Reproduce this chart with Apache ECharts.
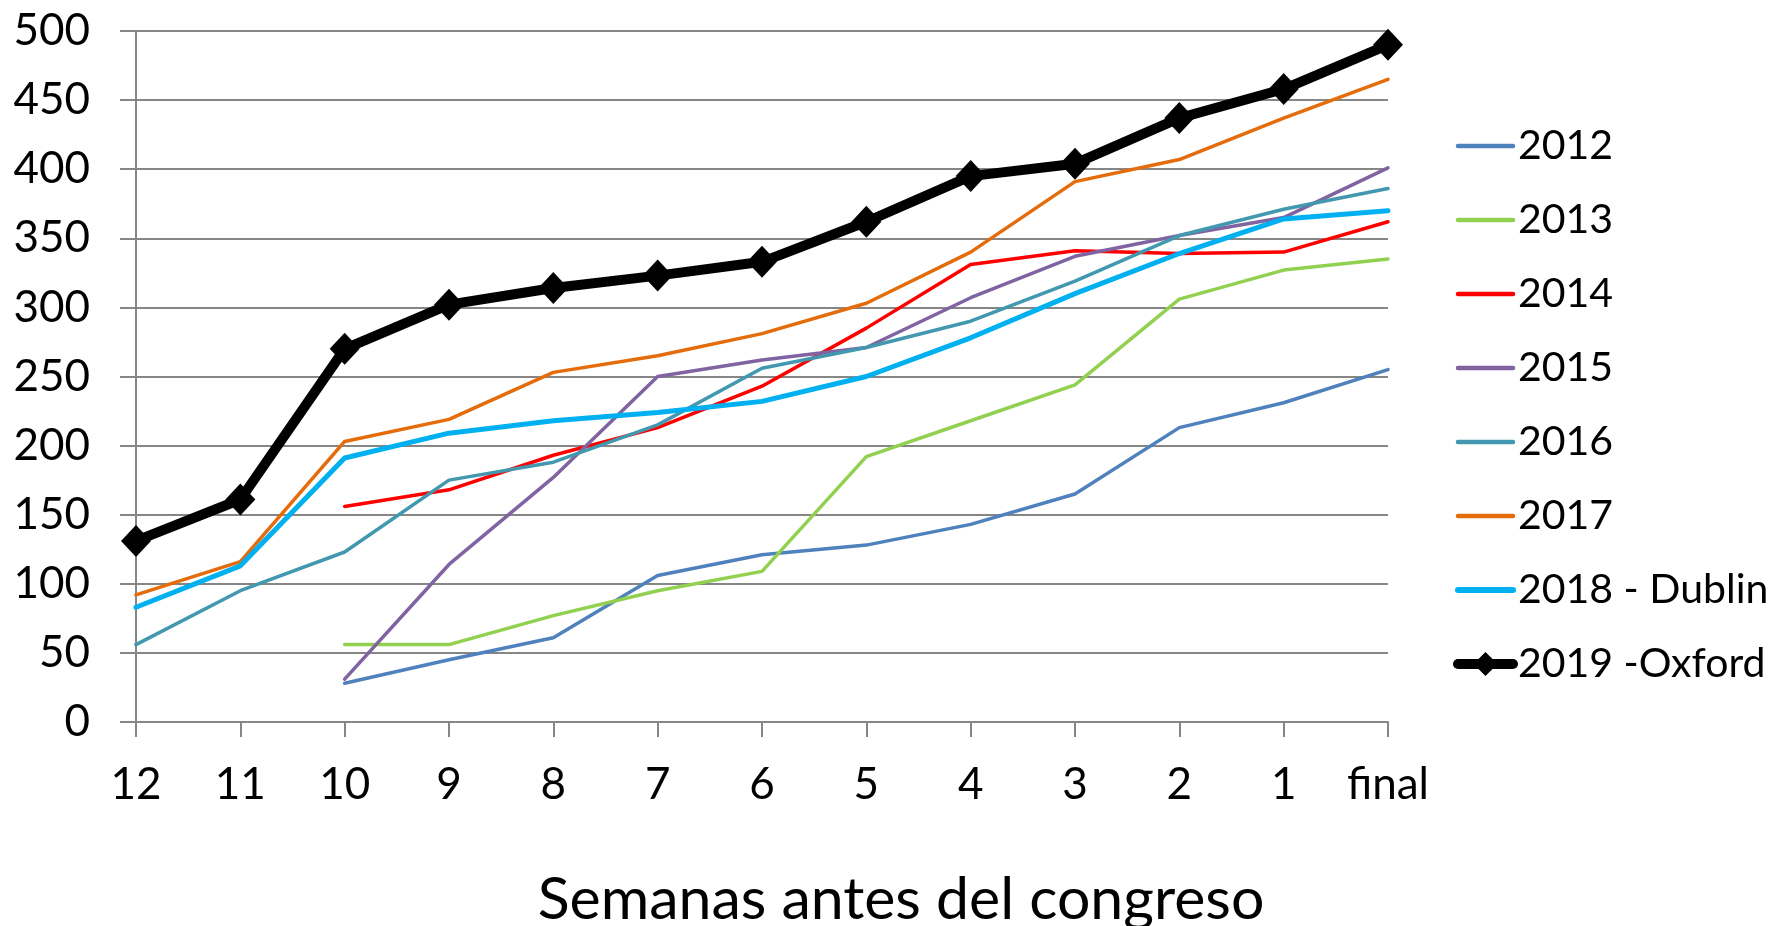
<!DOCTYPE html>
<html>
<head>
<meta charset="utf-8">
<script src="https://cdn.jsdelivr.net/npm/echarts@6/dist/echarts.min.js"></script>
<style>
  html, body { margin: 0; padding: 0; background: #fff; }
  #chart { width: 1778px; height: 926px; }
</style>
</head>
<body>
<div id="chart"></div>
<script>
// weeks before the congress
var weeks = ['12', '11', '10', '9', '8', '7', '6', '5', '4', '3', '2', '1', 'final']
var yTicks = [0, 50, 100, 150, 200, 250, 300, 350, 400, 450, 500]

var v2012 = [null, null, 28, 45, 61, 106, 121, 128, 143, 165, 213, 231, 255]
var v2013 = [null, null, 56, 56, 77, 95, 109, 192, 218, 244, 306, 327, 335]
var v2014 = [null, null, 156, 168, 193, 213, 243, 285, 331, 341, 339, 340, 362]
var v2015 = [null, null, 31, 114, 177, 250, 262, 271, 307, 337, 352, 365, 401]
var v2016 = [56, 95, 123, 175, 188, 215, 256, 271, 290, 319, 352, 371, 386]
var v2017 = [92, 116, 203, 219, 253, 265, 281, 303, 340, 391, 407, 437, 465]
var v2018 = [83, 113, 191, 209, 218, 224, 232, 250, 278, 310, 339, 364, 370]
var v2019 = [131, 161, 270, 302, 314, 323, 333, 362, 395, 404, 437, 458, 490]

var names = ['2012', '2013', '2014', '2015', '2016', '2017', '2018 - Dublin', '2019 -Oxford']
var colors = ['#4F81BD', '#92D050', '#FF0000', '#8064A2', '#4198AF', '#E46C0A', '#00B0F0', '#000000']
var values = [v2012, v2013, v2014, v2015, v2016, v2017, v2018, v2019]
var widths = [3.5, 3.5, 3.5, 3.5, 3.5, 3.5, 5, 10]

var fontFam = 'Lato, "Open Sans", sans-serif'
var gridCol = '#868686'

var chart = echarts.init(document.getElementById('chart'))

var series = []
var legendData = []
for (var i = 0; i < names.length; i++) {
  var last = i === names.length - 1
  series.push({
    name: names[i],
    type: 'line',
    data: values[i],
    connectNulls: false,
    symbol: last ? 'diamond' : 'none',
    symbolSize: last ? [30, 32] : 0,
    showSymbol: last,
    itemStyle: {color: colors[i]},
    lineStyle: {color: colors[i], width: widths[i], cap: 'round', join: 'round'},
    animation: false,
    z: 2 + i
  })
  // thin lines: hide the legend dot, keep only the line
  if (last) {
    legendData.push({name: names[i], lineStyle: {width: 10, cap: 'round'}})
  } else {
    legendData.push({name: names[i], itemStyle: {opacity: 0}, lineStyle: {width: widths[i] + 1, cap: 'round'}})
  }
}

var opt = {
  backgroundColor: '#ffffff',
  animation: false,
  grid: {
    left: 136,
    right: 390,
    top: 31,
    bottom: 204,
    containLabel: false
  },
  xAxis: {
    type: 'category',
    data: weeks,
    boundaryGap: false,
    axisLine: {show: true, lineStyle: {color: gridCol, width: 2}},
    axisTick: {show: true, length: 15, lineStyle: {color: gridCol, width: 2}},
    axisLabel: {
      color: '#000',
      fontFamily: fontFam,
      fontSize: 44,
      margin: 41,
      interval: 0
    },
    splitLine: {show: false}
  },
  yAxis: {
    type: 'value',
    min: yTicks[0],
    max: yTicks[yTicks.length - 1],
    interval: 50,
    axisLine: {show: true, lineStyle: {color: gridCol, width: 2}},
    axisTick: {show: true, length: 16, lineStyle: {color: gridCol, width: 2}},
    axisLabel: {
      color: '#000',
      fontFamily: fontFam,
      fontSize: 44,
      margin: 46
    },
    splitLine: {show: true, lineStyle: {color: gridCol, width: 2}}
  },
  legend: {
    orient: 'vertical',
    left: 1448,
    top: 119,
    itemWidth: 55,
    itemHeight: 30,
    itemGap: 30,
    textStyle: {
      color: '#000',
      fontFamily: fontFam,
      fontSize: 41,
      lineHeight: 44
    },
    data: legendData
  },
  graphic: [
    {
      type: 'text',
      x: 901,
      y: 870,
      style: {
        text: 'Semanas antes del congreso',
        fontFamily: fontFam,
        fontSize: 59,
        fill: '#000',
        align: 'center'
      }
    }
  ],
  series: series
}

chart.setOption(opt)
</script>
</body>
</html>
